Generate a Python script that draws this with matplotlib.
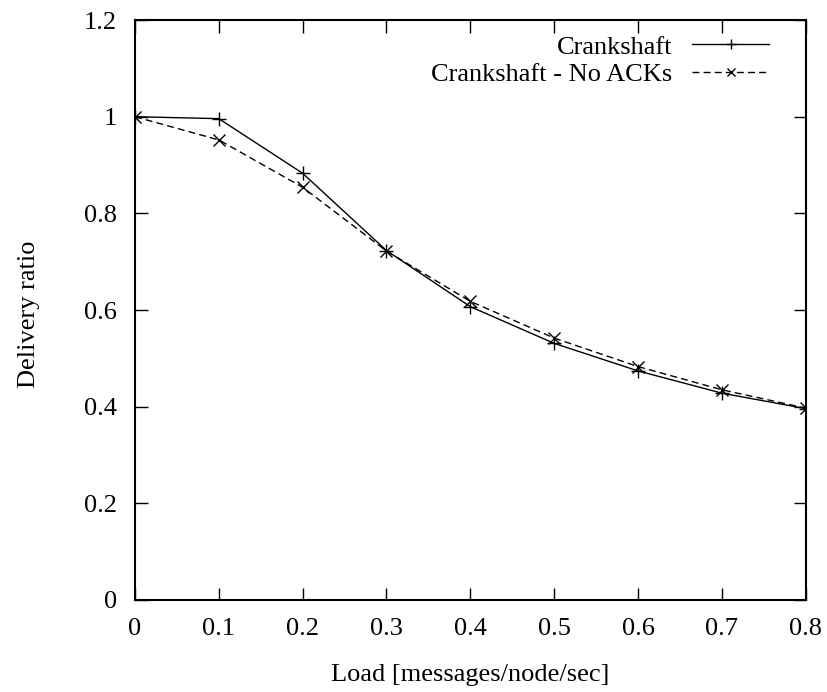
import matplotlib
matplotlib.use('Agg')
import matplotlib.pyplot as plt

load = [0.0, 0.1, 0.2, 0.3, 0.4, 0.5, 0.6, 0.7, 0.8]
crankshaft = [1.0, 0.996, 0.883, 0.723, 0.607, 0.531, 0.474, 0.428, 0.396]
no_acks = [1.0, 0.952, 0.854, 0.722, 0.618, 0.542, 0.483, 0.435, 0.397]

plt.rcParams['font.family'] = ['Liberation Serif', 'DejaVu Serif']
plt.rcParams['font.size'] = 19

fig = plt.figure(figsize=(8.28, 6.92), dpi=100)
ax = fig.add_axes([0.163, 0.133, 0.81, 0.838])

ax.plot(load, crankshaft, color='black', lw=1.0, marker='+', ms=10, mew=1.0, label='Crankshaft')
ax.plot(load, no_acks, color='black', lw=1.0, ls=(0, (5, 3)), marker='x', ms=8, mew=1.0,
        label='Crankshaft - No ACKs')

ax.set_xlim(0, 0.8)
ax.set_ylim(0, 1.2)
ax.set_xticks([0, 0.1, 0.2, 0.3, 0.4, 0.5, 0.6, 0.7, 0.8])
ax.set_xticklabels(['0', '0.1', '0.2', '0.3', '0.4', '0.5', '0.6', '0.7', '0.8'])
ax.set_yticks([0, 0.2, 0.4, 0.6, 0.8, 1.0, 1.2])
ax.set_yticklabels(['0', '0.2', '0.4', '0.6', '0.8', '1', '1.2'])
ax.tick_params(direction='in', length=9, width=1.0, top=True, right=True)
ax.tick_params(axis='x', pad=13)
ax.tick_params(axis='y', pad=13)
for s in ax.spines.values():
    s.set_linewidth(1.5)

ax.set_xlabel('Load [messages/node/sec]', labelpad=17)
ax.set_ylabel('Delivery ratio')
ax.yaxis.set_label_coords(-0.142, 0.492)

ax.legend(loc='upper right', bbox_to_anchor=(0.946, 0.974), frameon=False, markerfirst=False,
          handlelength=2.95, borderaxespad=0, borderpad=0, labelspacing=0.15,
          handletextpad=0.72, markerscale=0.7)

fig.savefig('out.png', dpi=100)
